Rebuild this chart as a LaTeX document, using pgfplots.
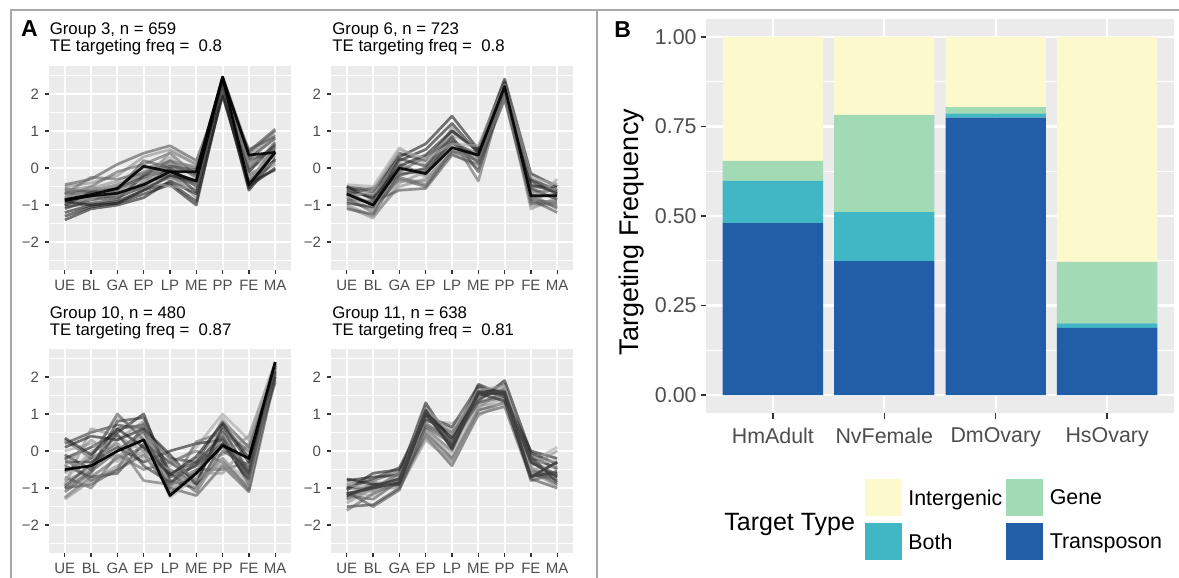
\documentclass[border=0pt]{standalone}
\usepackage{pgfplots}
\usepackage{pgfplotstable}
\pgfplotsset{compat=1.18}
\usepackage{fontspec}
\setmainfont{Liberation Sans}

\definecolor{panelbg}{HTML}{EBEBEB}
\definecolor{gtick}{HTML}{333333}
\definecolor{glab}{HTML}{4D4D4D}
\definecolor{cInter}{HTML}{FCFACD}
\definecolor{cGene}{HTML}{A1DAB4}
\definecolor{cBoth}{HTML}{41B6C4}
\definecolor{cTrans}{HTML}{225EA8}
\definecolor{frameC}{HTML}{A8A8A8}

% Panel A: one row per expression profile, one column per stage
\pgfplotstableread{
UE BL GA EP LP ME PP FE MA
-0.88 -0.75 -0.68 -0.45 -0.10 -0.35 2.45 -0.45 0.42
-0.85 -0.72 -0.55 0.05 -0.10 -0.10 2.45 0.35 0.42
-0.70 -0.60 -0.45 -0.10 0.10 -0.20 2.30 0.10 0.60
-1.00 -0.80 -0.75 -0.40 -0.20 -0.40 2.20 -0.20 0.20
-0.50 -0.40 -0.20 0.30 0.50 0.10 2.10 0.30 0.90
-1.20 -1.00 -0.90 -0.60 -0.40 -0.90 2.00 -0.50 0.00
-0.60 -0.70 -0.50 -0.20 0.20 0.00 2.35 0.40 1.00
-0.90 -0.90 -0.60 -0.30 -0.30 -0.60 2.40 0.00 0.30
-0.80 -0.50 -0.10 0.10 0.40 -0.20 2.25 -0.10 0.70
-1.10 -0.85 -0.80 -0.50 0.00 -0.50 2.30 0.20 0.50
-0.75 -0.60 -0.65 -0.30 -0.15 -0.80 2.15 -0.30 0.10
-1.30 -1.05 -0.95 -0.70 -0.45 -1.00 2.10 -0.60 0.25
-0.45 -0.30 0.10 0.40 0.60 0.20 2.05 0.50 0.85
-0.95 -0.70 -0.50 -0.10 0.30 -0.30 2.40 0.10 0.40
-0.65 -0.80 -0.70 -0.55 -0.25 -0.45 2.20 -0.35 0.55
-1.05 -0.95 -0.85 -0.20 0.05 -0.05 2.00 0.25 0.80
-0.85 -0.55 -0.35 0.00 0.15 0.05 2.30 -0.15 0.15
-1.40 -1.10 -1.00 -0.80 -0.35 -0.70 1.95 -0.40 -0.05
-0.55 -0.65 -0.60 0.20 0.00 -0.15 2.45 0.45 1.05
-0.80 -0.85 -0.40 -0.35 -0.50 -0.55 2.35 -0.25 0.35
-0.70 -0.25 -0.30 -0.15 0.20 -0.25 2.20 0.00 0.60
-1.00 -0.65 -0.55 -0.25 -0.05 -0.65 2.40 -0.10 0.65
-0.60 -0.50 -0.75 -0.45 0.45 0.10 2.15 0.15 0.30
-0.90 -1.00 -0.95 -0.60 -0.20 -0.35 2.25 -0.55 0.45
}\rawA
\pgfplotstabletranspose{\tabA}{\rawA}

\pgfplotstableread{
UE BL GA EP LP ME PP FE MA
-0.70 -1.00 0.00 -0.15 0.55 0.35 2.20 -0.75 -0.75
-0.75 -0.95 -0.05 -0.05 0.65 0.40 2.25 -0.80 -0.70
-0.50 -0.60 0.40 0.20 1.00 0.50 2.30 -0.50 -0.50
-1.00 -1.30 -0.50 -0.30 0.40 0.00 1.90 -1.00 -1.00
-0.60 -0.80 0.20 0.50 1.20 0.40 2.10 -0.30 -0.60
-0.90 -1.10 -0.30 -0.50 0.45 0.20 2.00 -0.90 -0.90
-0.45 -0.50 0.55 0.10 0.90 0.55 2.35 -0.60 -0.40
-0.80 -1.20 0.10 -0.20 0.80 -0.35 2.15 -0.70 -1.10
-0.65 -0.75 -0.20 0.00 0.70 0.30 2.25 -0.45 -0.65
-1.05 -1.35 -0.40 -0.10 1.10 0.45 2.05 -1.10 -0.80
-0.55 -0.65 0.30 0.65 1.40 0.50 2.40 -0.15 -0.50
-0.85 -0.90 -0.60 -0.55 0.35 0.10 1.85 -0.85 -1.20
-0.70 -1.15 0.15 -0.25 0.60 0.25 2.20 -1.00 -0.30
-0.60 -0.55 -0.10 0.30 0.75 0.30 2.30 -0.65 -0.60
-0.95 -1.05 0.25 0.05 0.85 -0.10 2.10 -0.55 -0.85
-0.75 -0.70 -0.35 -0.35 0.50 0.20 1.95 -0.75 -0.55
-0.50 -0.85 0.05 0.35 1.00 0.45 2.30 -0.35 -0.70
-1.10 -1.25 -0.15 -0.10 0.70 0.15 2.15 -0.95 -0.95
-0.80 -0.60 0.50 0.25 0.65 0.60 2.25 -0.25 -0.45
-0.65 -1.00 -0.25 -0.45 0.45 0.35 2.00 -0.80 -1.05
}\rawB
\pgfplotstabletranspose{\tabBB}{\rawB}

\pgfplotstableread{
UE BL GA EP LP ME PP FE MA
-0.50 -0.40 0.00 0.30 -1.20 -0.60 0.15 -0.20 2.40
-1.25 -0.70 -0.20 0.10 -0.50 -0.90 -0.20 -1.05 2.30
0.20 0.50 0.70 0.60 -0.20 -0.30 0.80 0.10 2.20
-0.80 -0.50 0.30 0.80 -0.70 -0.40 0.50 -0.50 2.35
-0.20 0.10 0.50 1.00 -0.80 -1.00 0.20 -0.80 2.10
-1.00 -0.90 -0.50 -0.10 -1.00 -1.20 -0.40 -1.10 2.00
-0.60 -0.10 0.90 0.50 -0.40 0.10 1.00 0.30 2.30
0.30 -0.20 0.20 -0.80 -0.90 -0.50 -0.50 -0.30 1.90
-0.40 -0.70 -0.60 0.20 -0.30 -0.80 0.60 -0.60 2.25
-0.90 0.60 0.40 0.00 -1.10 -0.20 -0.10 0.40 2.40
-0.30 -0.30 0.10 -0.30 0.00 0.20 0.30 -0.90 2.15
-1.10 -0.60 0.60 0.70 -0.60 -1.10 0.00 -0.40 2.30
0.00 0.20 -0.30 0.40 -1.25 -0.70 0.90 -0.10 2.20
-0.70 -1.00 -0.10 -0.50 -0.30 0.00 -0.30 -1.00 2.05
-0.10 -0.50 0.80 0.90 -0.60 -0.30 0.40 -0.70 2.35
-1.30 -0.80 -0.40 0.00 -0.90 -0.60 -0.60 0.20 2.10
0.10 0.40 0.30 0.60 -0.10 -0.90 0.70 -0.30 2.25
-0.55 -0.20 1.00 0.30 -0.70 -0.40 0.10 -0.50 1.85
-0.80 0.00 0.20 -0.20 -0.50 -1.00 -0.20 -0.85 2.20
-0.20 -0.80 -0.50 0.75 -1.00 0.25 0.50 0.00 2.30
-0.95 -0.35 0.45 -0.40 -0.85 -0.35 0.20 -0.60 2.00
-0.40 0.30 -0.20 0.50 -0.20 -0.80 -0.35 -0.95 2.40
0.35 -0.10 0.60 0.10 -0.65 -0.15 0.75 -0.20 2.15
-1.00 -0.55 0.00 0.55 -1.15 -0.55 0.35 -0.75 2.30
}\rawC
\pgfplotstabletranspose{\tabC}{\rawC}

\pgfplotstableread{
UE BL GA EP LP ME PP FE MA
-1.15 -1.00 -0.85 1.00 0.10 1.55 1.55 -0.30 -0.70
-1.20 -0.95 -0.75 1.10 0.05 1.60 1.60 -0.70 -0.30
-0.90 -0.80 -0.55 0.70 0.30 1.30 1.45 -0.10 -0.50
-1.50 -1.45 -1.00 0.50 -0.20 1.10 1.30 -0.50 -0.90
-1.00 -1.10 -0.80 0.90 0.60 1.40 1.70 -0.60 -0.60
-0.80 -0.70 -0.65 1.30 0.20 1.80 1.50 0.00 -0.20
-1.30 -0.90 -0.95 0.40 -0.40 1.00 1.20 -0.75 -1.00
-1.10 -1.20 -0.70 0.80 0.75 1.20 1.40 -0.30 0.10
-1.25 -0.85 -0.90 0.60 0.00 1.50 1.80 -0.45 -0.80
-0.95 -1.05 -0.60 1.05 0.40 1.70 1.60 -0.20 -0.45
-1.40 -1.00 -1.00 0.30 -0.30 0.95 1.35 -0.55 -0.95
-1.05 -0.60 -0.50 0.85 0.50 1.35 1.90 -0.05 -0.35
-1.20 -1.30 -0.80 1.20 0.15 1.60 1.55 -0.80 -0.60
-0.85 -0.95 -0.70 0.55 -0.10 1.25 1.25 -0.35 -0.25
-1.60 -1.15 -0.85 0.75 0.30 1.45 1.65 -0.65 -0.75
-1.00 -0.75 -0.45 0.95 0.65 1.75 1.45 -0.15 -0.85
-1.30 -1.00 -0.60 0.45 -0.25 1.15 1.70 -0.40 0.00
-0.75 -0.90 -0.90 1.00 0.35 1.55 1.35 -0.70 -0.55
-1.10 -1.50 -1.05 0.65 0.20 1.30 1.55 -0.25 -0.65
-0.90 -1.05 -0.75 1.15 0.45 1.65 1.75 -0.50 -0.40
}\rawD
\pgfplotstabletranspose{\tabD}{\rawD}

% Panel B: stacked targeting frequencies
\pgfplotstableread{
x T B G I
1 0.480 0.118 0.056 0.346
2 0.374 0.137 0.271 0.218
3 0.775 0.011 0.018 0.196
4 0.188 0.012 0.172 0.628
}\tabFreq

\pgfplotsset{
  ggA/.style={
    scale only axis, width=121pt, height=102pt,
    xmin=0.4, xmax=9.6, ymin=-2.75, ymax=2.75,
    axis background/.style={fill=panelbg},
    axis line style={draw=none},
    xtick={1,...,9},
    xticklabels={UE,BL,GA,EP,LP,ME,PP,FE,MA},
    ytick={-2,-1,0,1,2},
    yticklabels={−2,−1,0,1,2},
    minor ytick={-2.5,-1.5,-0.5,0.5,1.5,2.5},
    grid=both,
    major grid style={white, line width=1pt},
    minor grid style={white, line width=0.7pt},
    tick pos=left, tick align=outside,
    major tick length=2pt, minor tick length=0pt,
    major tick style={gtick, line width=0.7pt},
    ticklabel style={font=\fontsize{7.5}{8.5}\selectfont, text=glab},
    xticklabel style={inner sep=0pt, yshift=-3pt},
    yticklabel style={inner sep=0pt, xshift=-2.8pt},
    cycle list={{black!60},{black!78},{black!45},{black!88},{black!68},{black!35}},
    every axis plot/.append style={no markers, line width=1.35pt, opacity=0.6, line join=round},
  },
  bigkey/.style={legend image code/.code={\fill[##1] (0pt,-8.6pt) rectangle (18.5pt,9.9pt);}},
}

\begin{document}
\begin{tikzpicture}
\path[use as bounding box] (0,0) rectangle (589.5pt,-289pt);

% frame lines
\draw[frameC, line width=0.75pt] (5.5pt,-289pt) -- (5.5pt,-5pt) -- (589.5pt,-5pt);
\draw[frameC, line width=0.75pt] (298.5pt,-5pt) -- (298.5pt,-289pt);

% ---- Panel A ----
\begin{axis}[ggA, at={(24.5pt,-135pt)}, anchor=south west]
\pgfplotsinvokeforeach{3,...,24}{\addplot+ table[x expr=\coordindex+1, y index=#1]{\tabA};}
\addplot[black, opacity=0.9, line width=1.35pt, no markers] table[x expr=\coordindex+1, y index=2]{\tabA};
\addplot[black, opacity=0.9, line width=1.35pt, no markers] table[x expr=\coordindex+1, y index=1]{\tabA};
\end{axis}

\begin{axis}[ggA, at={(165.5pt,-135pt)}, anchor=south west]
\pgfplotsinvokeforeach{2,...,20}{\addplot+ table[x expr=\coordindex+1, y index=#1]{\tabBB};}
\addplot[black, opacity=0.9, line width=1.35pt, no markers] table[x expr=\coordindex+1, y index=1]{\tabBB};
\end{axis}

\begin{axis}[ggA, at={(24.5pt,-276.5pt)}, anchor=south west]
\pgfplotsinvokeforeach{2,...,24}{\addplot+ table[x expr=\coordindex+1, y index=#1]{\tabC};}
\addplot[black, opacity=0.95, line width=1.35pt, no markers] table[x expr=\coordindex+1, y index=1]{\tabC};
\end{axis}

\begin{axis}[ggA, at={(165.5pt,-276.5pt)}, anchor=south west]
\pgfplotsinvokeforeach{3,...,20}{\addplot+ table[x expr=\coordindex+1, y index=#1]{\tabD};}
\addplot[black!75, opacity=0.9, line width=1.35pt, no markers] table[x expr=\coordindex+1, y index=2]{\tabD};
\addplot[black!75, opacity=0.9, line width=1.35pt, no markers] table[x expr=\coordindex+1, y index=1]{\tabD};
\end{axis}

% titles of panel A
\begin{scope}[every node/.style={anchor=base west, inner sep=0pt, font=\fontsize{8.4}{10}\selectfont}]
\node at (24.7pt,-17pt) {Group 3, n = 659};
\node at (24.7pt,-25.5pt) {TE targeting freq = \ 0.8};
\node at (166pt,-17pt) {Group 6, n = 723};
\node at (166pt,-25.5pt) {TE targeting freq = \ 0.8};
\node at (24.7pt,-159pt) {Group 10, n = 480};
\node at (24.7pt,-167.5pt) {TE targeting freq = \ 0.87};
\node at (166pt,-159pt) {Group 11, n = 638};
\node at (166pt,-167.5pt) {TE targeting freq = \ 0.81};
\end{scope}
\node[anchor=base west, inner sep=0pt, font=\fontsize{11.5}{13}\selectfont\bfseries] at (10.3pt,-18pt) {A};
\node[anchor=base west, inner sep=0pt, font=\fontsize{11.5}{13}\selectfont\bfseries] at (307pt,-18.8pt) {B};

% ---- Panel B ----
\begin{axis}[
  at={(353pt,-206.5pt)}, anchor=south west,
  scale only axis, width=234pt, height=197pt,
  xmin=0.4, xmax=4.6, ymin=-0.05, ymax=1.05,
  ybar stacked, bar width=0.9,
  axis background/.style={fill=panelbg},
  axis line style={draw=none},
  xtick={1,2,3,4}, xticklabels={HmAdult,NvFemale,DmOvary,HsOvary},
  ytick={0,0.25,0.5,0.75,1}, yticklabels={0.00,0.25,0.50,0.75,1.00},
  minor ytick={0.125,0.375,0.625,0.875},
  grid=both,
  major grid style={white, line width=1.1pt},
  minor grid style={white, line width=0.55pt},
  tick pos=left, tick align=outside,
  major tick length=2.75pt, minor tick length=0pt,
  major tick style={gtick, line width=0.75pt},
  ticklabel style={font=\fontsize{10.7}{12}\selectfont, text=glab},
  xticklabel style={inner sep=0pt, yshift=-4.5pt},
  yticklabel style={inner sep=0pt, xshift=-1.75pt},
  legend columns=2, reverse legend, legend cell align=left,
  legend style={at={(0.3397,-0.1675)}, anchor=north west, draw=none, fill=none,
    inner sep=0pt, outer sep=0pt, font=\fontsize{10.7}{12}\selectfont,
    row sep=3.5pt, column sep=0pt, nodes={inner sep=0pt, text=black},
    /tikz/every odd column/.append style={column sep=3.2pt},
    /tikz/every even column/.append style={column sep=2pt}},
]
\addplot[fill=cTrans, draw=none, bigkey] table[x=x, y=T]{\tabFreq};
\addlegendentry{Transposon}
\addplot[fill=cBoth, draw=none, bigkey] table[x=x, y=B]{\tabFreq};
\addlegendentry{Both}
\addplot[fill=cGene, draw=none, bigkey] table[x=x, y=G]{\tabFreq};
\addlegendentry{Gene}
\addplot[fill=cInter, draw=none, bigkey] table[x=x, y=I]{\tabFreq};
\addlegendentry{Intergenic}
\end{axis}

\node[rotate=90, anchor=base, inner sep=0pt, font=\fontsize{13.5}{15}\selectfont] at (319pt,-116pt) {Targeting Frequency};
\node[anchor=base west, inner sep=0pt, font=\fontsize{12.5}{14}\selectfont] at (362pt,-265pt) {Target Type};
\end{tikzpicture}
\end{document}
